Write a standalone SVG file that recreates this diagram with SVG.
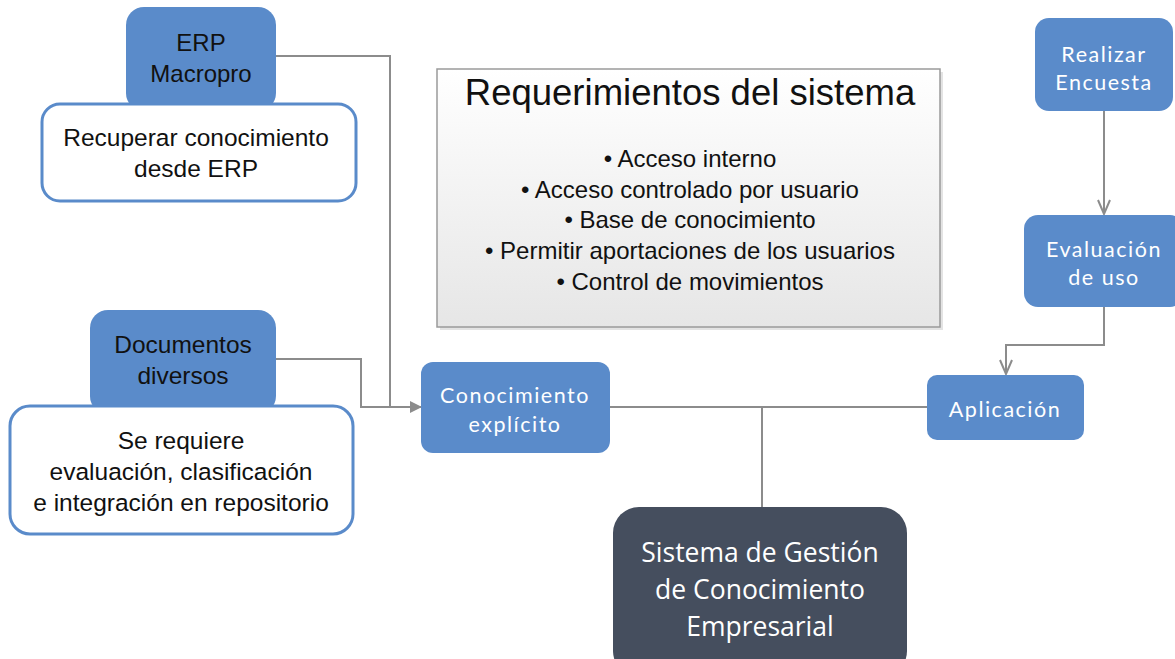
<svg xmlns="http://www.w3.org/2000/svg" width="1175" height="659" viewBox="0 0 1175 659">
<defs>
<style>
.blue{fill:#5a8bca;}
.wbox{fill:#ffffff;stroke:#5a8bca;stroke-width:3;}
.arial{font-family:"Liberation Sans",Arial,sans-serif;fill:#111;text-anchor:middle;}
.cal{font-family:Lato,"Open Sans",sans-serif;fill:#ffffff;text-anchor:middle;font-size:21.5px;letter-spacing:1.5px;}
.sgc{font-family:"Open Sans","Noto Sans",sans-serif;fill:#ffffff;text-anchor:middle;font-size:26.5px;}
.conn{fill:none;stroke:#8c8c8c;stroke-width:2;}
</style>
<linearGradient id="reqg" x1="0" y1="0" x2="0" y2="1">
<stop offset="0" stop-color="#ffffff"/>
<stop offset="1" stop-color="#e6e6e6"/>
</linearGradient>
<marker id="fill" markerWidth="12" markerHeight="12" refX="11" refY="6" orient="auto" markerUnits="userSpaceOnUse">
<path d="M0,0 L12,6 L0,12 Z" fill="#8c8c8c"/>
</marker>
<marker id="open" markerWidth="14" markerHeight="16" refX="7" refY="15" orient="0" markerUnits="userSpaceOnUse">
<path d="M1,1 L7,15 L13,1" fill="none" stroke="#8c8c8c" stroke-width="2"/>
</marker>
</defs>
<rect width="1175" height="659" fill="#ffffff"/>

<g id="connectors">
<path class="conn" d="M276,56 H390 V407"/>
<path class="conn" d="M276,359 H361 V407 H421" marker-end="url(#fill)"/>
<path class="conn" d="M610,407 H927"/>
<path class="conn" d="M762,407 V508"/>
<path class="conn" d="M1104,111 V214" marker-end="url(#open)"/>
<path class="conn" d="M1104,307 V345 H1006 V374" marker-end="url(#open)"/>
</g>

<g id="node-erp">
<rect class="blue" x="126" y="7" width="150" height="104" rx="18"/>
<text class="arial" x="201" y="51" font-size="24">ERP</text>
<text class="arial" x="201" y="82" font-size="24">Macropro</text>
</g>
<g id="node-recuperar">
<rect class="wbox" x="42" y="104" width="314" height="97" rx="18"/>
<text class="arial" x="196" y="146" font-size="24.5">Recuperar conocimiento</text>
<text class="arial" x="196" y="177" font-size="24.5">desde ERP</text>
</g>

<g id="node-documentos">
<rect class="blue" x="90" y="310" width="186" height="104" rx="18"/>
<text class="arial" x="183" y="353" font-size="24.5">Documentos</text>
<text class="arial" x="183" y="384" font-size="24.5">diversos</text>
</g>
<g id="node-serequiere">
<rect class="wbox" x="10" y="406" width="343" height="128" rx="20"/>
<text class="arial" x="181" y="449" font-size="24.5">Se requiere</text>
<text class="arial" x="181" y="480" font-size="24.5">evaluación, clasificación</text>
<text class="arial" x="181" y="511" font-size="24.5">e integración en repositorio</text>
</g>

<g id="node-requerimientos">
<rect x="440" y="72" width="503" height="258" fill="#d0d0d0" opacity="0.6"/>
<rect x="437" y="69" width="503" height="258" fill="url(#reqg)" stroke="#9a9a9a" stroke-width="1.5"/>
<text class="arial" x="690" y="105" font-size="36.5">Requerimientos del sistema</text>
<text class="arial" x="690" y="167" font-size="24">• Acceso interno</text>
<text class="arial" x="690" y="198" font-size="24">• Acceso controlado por usuario</text>
<text class="arial" x="690" y="228" font-size="24">• Base de conocimiento</text>
<text class="arial" x="690" y="259" font-size="24">• Permitir aportaciones de los usuarios</text>
<text class="arial" x="690" y="290" font-size="24">• Control de movimientos</text>
</g>

<g id="node-conocimiento">
<rect class="blue" x="421" y="362" width="189" height="91" rx="12"/>
<text class="cal" x="515" y="403">Conocimiento</text>
<text class="cal" x="515" y="432">explícito</text>
</g>

<g id="node-aplicacion">
<rect class="blue" x="927" y="375" width="157" height="65" rx="10"/>
<text class="cal" x="1005" y="417">Aplicación</text>
</g>

<g id="node-realizar">
<rect class="blue" x="1035" y="18" width="138" height="93" rx="14"/>
<text class="cal" x="1104" y="62">Realizar</text>
<text class="cal" x="1104" y="90">Encuesta</text>
</g>

<g id="node-evaluacion">
<rect class="blue" x="1024" y="215" width="160" height="92" rx="14"/>
<text class="cal" x="1104" y="257">Evaluación</text>
<text class="cal" x="1104" y="285">de uso</text>
</g>

<g id="node-sgc">
<rect x="613" y="507" width="294" height="170" rx="26" fill="#454e5e"/>
<text class="sgc" x="760" y="562">Sistema de Gestión</text>
<text class="sgc" x="760" y="599">de Conocimiento</text>
<text class="sgc" x="760" y="636">Empresarial</text>
</g>
</svg>
